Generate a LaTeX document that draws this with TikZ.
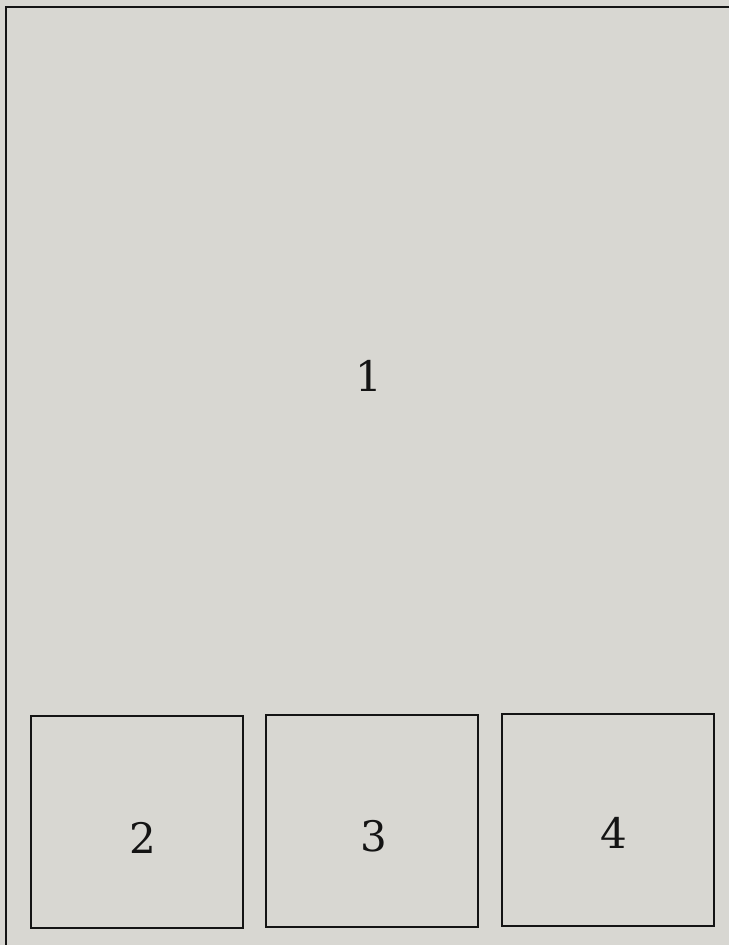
\documentclass[tikz,border=0pt]{standalone}
\usepackage{fontspec}
\setmainfont{DejaVu Serif}
\usepackage{xcolor}
\usetikzlibrary{positioning}
\definecolor{paper}{RGB}{216, 215, 210}
\definecolor{inkblack}{RGB}{20, 20, 20}

\begin{document}
\begin{tikzpicture}[
    x=1pt, y=-1pt,
    panel/.style={rectangle, draw=inkblack, line width=2.2pt,
                  minimum width=212pt, minimum height=212pt, inner sep=0pt},
    label/.style={font=\fontsize{42}{42}\selectfont, inkblack, inner sep=0pt},
    frame/.style={draw=inkblack, line width=2.4pt}
]

%% Paper and bounding box
\fill[paper] (0,0) rectangle (729,945);
\useasboundingbox (0,0) rectangle (729,945);

%% Outer frame (runs off the right and bottom edges)
\coordinate (fTL) at (6,7);
\coordinate (fTR) at (729,7);
\coordinate (fBL) at (6,945);
\draw[frame] (fTR) -- (fTL) -- (fBL);

%% Large area
\node[label] (lab1) at (369,376) {1};

%% Small panels along the bottom
\node[panel] (reg2) at (137,822) {};
\node[panel] (reg3) at (372,821) {};
\node[panel] (reg4) at (608,820) {};

%% Panel numbers (set a little right of and below centre)
\node[label] (lab2) at ([xshift=6pt, yshift=-16pt]reg2.center) {2};
\node[label] (lab3) at ([xshift=2pt, yshift=-15pt]reg3.center) {3};
\node[label] (lab4) at ([xshift=6pt, yshift=-13pt]reg4.center) {4};

\end{tikzpicture}
\end{document}
